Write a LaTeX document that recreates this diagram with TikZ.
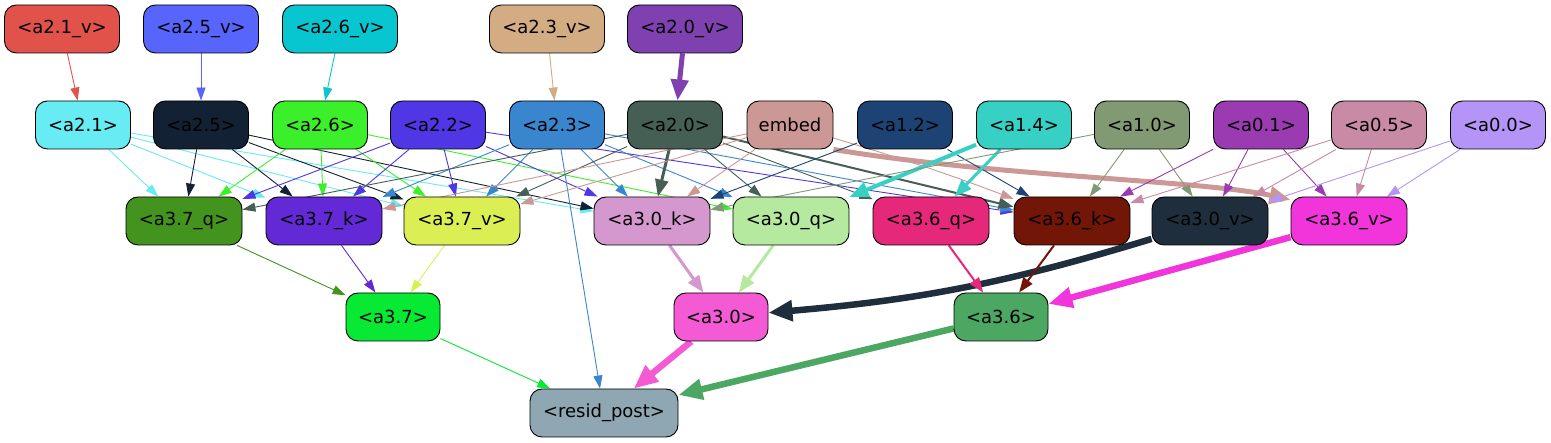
\documentclass[tikz,border=0pt]{standalone}
\usepackage{fontspec}
\setmainfont{DejaVu Sans}
\usetikzlibrary{arrows.meta,backgrounds}
\definecolor{c21v}{HTML}{E0524A}
\definecolor{c25v}{HTML}{5865FC}
\definecolor{c26v}{HTML}{07C6D0}
\definecolor{c23v}{HTML}{D3AC84}
\definecolor{c20v}{HTML}{7F40B0}
\definecolor{c21}{HTML}{67ECF3}
\definecolor{c25}{HTML}{132135}
\definecolor{c26}{HTML}{3BF02A}
\definecolor{c22}{HTML}{4F37E6}
\definecolor{c23}{HTML}{3A86CE}
\definecolor{c20}{HTML}{455F55}
\definecolor{cemb}{HTML}{CC9895}
\definecolor{c12}{HTML}{1C4373}
\definecolor{c14}{HTML}{36D0C5}
\definecolor{c10}{HTML}{819A73}
\definecolor{c01}{HTML}{9A3BB1}
\definecolor{c05}{HTML}{C88AA4}
\definecolor{c00}{HTML}{B494F6}
\definecolor{cq37}{HTML}{43941F}
\definecolor{ck37}{HTML}{6429D6}
\definecolor{cv37}{HTML}{DBEF55}
\definecolor{ck30}{HTML}{D498CF}
\definecolor{cq30}{HTML}{B5E99F}
\definecolor{cq36}{HTML}{E6287A}
\definecolor{ck36}{HTML}{721607}
\definecolor{cv30}{HTML}{1F2E3D}
\definecolor{cv36}{HTML}{F235DB}
\definecolor{ca37}{HTML}{08E933}
\definecolor{ca30}{HTML}{F45AD3}
\definecolor{ca36}{HTML}{4BA761}
\definecolor{cres}{HTML}{8FA7B3}
\begin{document}
\begin{tikzpicture}[x=1pt,y=1pt,
  nd/.style={draw=black, line width=0.9pt, rounded corners=12pt, minimum height=48pt,
    inner sep=0pt, font=\fontsize{18}{22}\selectfont, text=black},
  wv/.style={nd, minimum width=115pt},
  wa/.style={nd, minimum width=95pt},
  wem/.style={nd, minimum width=86pt},
  wq/.style={nd, minimum width=116pt},
  wt/.style={nd, minimum width=94pt},
  wr/.style={nd, minimum width=148pt},
  wA/.style={line width=0.9pt, -{Triangle[length=13pt,width=9pt]}},
  wB/.style={line width=2pt, -{Triangle[length=15pt,width=11pt]}},
  wC/.style={line width=3pt, -{Triangle[length=17pt,width=13pt]}},
  wD/.style={line width=4pt, -{Triangle[length=19pt,width=15pt]}},
  wE/.style={line width=5pt, -{Triangle[length=21pt,width=17pt]}},
  wF/.style={line width=6.5pt, -{Triangle[length=24pt,width=20pt]}}
]
\useasboundingbox (0,0) rectangle (1551,443);
% row 0
\node[wv, fill=c21v] (n21v) at (62,414) {<a2.1\_v>};
\node[wv, fill=c25v] (n25v) at (201,414) {<a2.5\_v>};
\node[wv, fill=c26v] (n26v) at (340,414) {<a2.6\_v>};
\node[wv, fill=c23v] (n23v) at (547,414) {<a2.3\_v>};
\node[wv, fill=c20v] (n20v) at (685,414) {<a2.0\_v>};
% row 1
\node[wa, fill=c21] (n21) at (83,318) {<a2.1>};
\node[wa, fill=c25] (n25) at (201,318) {<a2.5>};
\node[wa, fill=c26] (n26) at (320,318) {<a2.6>};
\node[wa, fill=c22] (n22) at (438,318) {<a2.2>};
\node[wa, fill=c23] (n23) at (557,318) {<a2.3>};
\node[wa, fill=c20] (n20) at (675,318) {<a2.0>};
\node[wem, fill=cemb] (emb) at (790,318) {embed};
\node[wa, fill=c12] (n12) at (905,318) {<a1.2>};
\node[wa, fill=c14] (n14) at (1024,318) {<a1.4>};
\node[wa, fill=c10] (n10) at (1142,318) {<a1.0>};
\node[wa, fill=c01] (n01) at (1261,318) {<a0.1>};
\node[wa, fill=c05] (n05) at (1379,318) {<a0.5>};
\node[wa, fill=c00] (n00) at (1498,318) {<a0.0>};
% row 2
\node[wq, fill=cq37] (q37) at (184,222) {<a3.7\_q>};
\node[wq, fill=ck37] (k37) at (324,222) {<a3.7\_k>};
\node[wq, fill=cv37] (v37) at (462,222) {<a3.7\_v>};
\node[wq, fill=ck30] (k30) at (652,222) {<a3.0\_k>};
\node[wq, fill=cq30] (q30) at (791,222) {<a3.0\_q>};
\node[wq, fill=cq36] (q36) at (931,222) {<a3.6\_q>};
\node[wq, fill=ck36] (k36) at (1072,222) {<a3.6\_k>};
\node[wq, fill=cv30] (v30) at (1210,222) {<a3.0\_v>};
\node[wq, fill=cv36] (v36) at (1349,222) {<a3.6\_v>};
% row 3
\node[wt, fill=ca37] (a37) at (393,126) {<a3.7>};
\node[wt, fill=ca30] (a30) at (721,126) {<a3.0>};
\node[wt, fill=ca36] (a36) at (1001,126) {<a3.6>};
% row 4
\node[wr, fill=cres] (res) at (604,30) {<resid\_post>};
\begin{scope}[on background layer]
\fill[white] (0,0) rectangle (1551,443);
% row 0 -> row 1
\draw[wA, draw=c21v] (n21v) -- (n21);
\draw[wA, draw=c25v] (n25v) -- (n25);
\draw[wA, draw=c26v] (n26v) -- (n26);
\draw[wA, draw=c23v] (n23v) -- (n23);
\draw[wE, draw=c20v] (n20v) -- (n20);
% a2.1
\draw[wA, draw=c21] (n21) -- (q37);
\draw[wA, draw=c21] (n21) -- (k37);
\draw[wA, draw=c21] (n21) -- (v37);
\draw[wA, draw=c21] (n21) -- (k30);
% a2.5
\draw[wA, draw=c25] (n25) -- (q37);
\draw[wA, draw=c25] (n25) -- (k37);
\draw[wA, draw=c25] (n25) -- (v37);
\draw[wA, draw=c25] (n25) -- (k30);
% a2.6
\draw[wA, draw=c26] (n26) -- (q37);
\draw[wA, draw=c26] (n26) -- (k37);
\draw[wA, draw=c26] (n26) -- (v37);
\draw[wA, draw=c26] (n26) -- (q30);
% a2.2
\draw[wA, draw=c22] (n22) -- (q37);
\draw[wA, draw=c22] (n22) -- (k37);
\draw[wA, draw=c22] (n22) -- (v37);
\draw[wA, draw=c22] (n22) -- (k30);
\draw[wA, draw=c22] (n22) -- (k36);
% a2.3
\draw[wA, draw=c23] (n23) -- (k37);
\draw[wA, draw=c23] (n23) -- (v37);
\draw[wA, draw=c23] (n23) -- (k30);
\draw[wA, draw=c23] (n23) -- (q30);
\draw[wA, draw=c23] (n23) -- (k36);
\draw[wA, draw=c23] (n23) -- (res);
% a2.0
\draw[wA, draw=c20] (n20) -- (q37);
\draw[wA, draw=c20] (n20) -- (v37);
\draw[wA, draw=c20] (n20) -- (q30);
\draw[wA, draw=c20] (n20) -- (q36);
\draw[wC, draw=c20] (n20) -- (k30);
\draw[wB, draw=c20] (n20) -- (k36);
% embed
\draw[wA, draw=cemb] (emb) -- (k37);
\draw[wA, draw=cemb] (emb) -- (v37);
\draw[wA, draw=cemb] (emb) -- (k30);
\draw[wA, draw=cemb] (emb) to[bend left=2] (k36);
\draw[wE, draw=cemb] (emb.south east) .. controls (1000,266) and (1200,263) .. (v36.160);
% a1.2, a1.4, a1.0
\draw[wA, draw=c12] (n12) -- (k30);
\draw[wA, draw=c12] (n12) -- (k36);
\draw[wD, draw=c14] (n14) -- (q30);
\draw[wC, draw=c14] (n14) -- (q36);
\draw[wA, draw=c10] (n10) -- (k30);
\draw[wA, draw=c10] (n10) -- (k36);
\draw[wA, draw=c10] (n10) -- (v30);
% a0.x
\draw[wA, draw=c01] (n01) -- (k36);
\draw[wA, draw=c01] (n01) -- (v30);
\draw[wA, draw=c01] (n01) -- (v36);
\draw[wA, draw=c05] (n05) -- (k36);
\draw[wA, draw=c05] (n05) -- (v30);
\draw[wA, draw=c05] (n05) -- (v36);
\draw[wA, draw=c00] (n00) -- (v30);
\draw[wA, draw=c00] (n00) -- (v36);
% row 2 -> row 3
\draw[wA, draw=cq37] (q37) -- (a37);
\draw[wA, draw=ck37] (k37) -- (a37);
\draw[wA, draw=cv37] (v37) -- (a37);
\draw[wC, draw=ck30] (k30) -- (a30);
\draw[wC, draw=cq30] (q30) -- (a30);
\draw[wF, draw=cv30] (v30) to[bend left=6] (a30);
\draw[wB, draw=cq36] (q36) -- (a36);
\draw[wB, draw=ck36] (k36) -- (a36);
\draw[wF, draw=cv36] (v36) -- (a36);
% row 3 -> row 4
\draw[wA, draw=ca37] (a37) -- (res);
\draw[wF, draw=ca30] (a30) -- (res);
\draw[wF, draw=ca36] (a36) -- (res);
\end{scope}
\end{tikzpicture}
\end{document}
